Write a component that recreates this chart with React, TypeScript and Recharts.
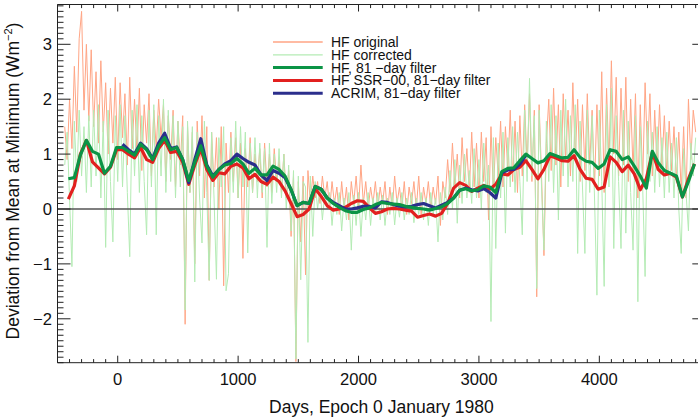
import React from 'react';
import { ComposedChart, Line, XAxis, YAxis, ReferenceLine, Legend } from 'recharts';

// ---------- data ----------
// noisy daily series, sampled every 20 days starting at day -440
const noiseStartDay = -440;
const noiseStepDays = 20;
const hfOriginal = [
  1.5, 0.9, 2.0, 1.1, 2.6, 1.4, 3.1, 3.6, 1.8, 3.0,
  1.6, 2.9, 1.5, 2.5, 1.2, 2.7, 1.4, 2.3, 1.0, 2.2,
  1.2, 2.4, 0.9, 2.3, 1.3, 2.1, 0.8, 2.4, 1.1, 2.0,
  1.0, 2.2, 0.7, 1.9, 1.2, 2.1, 0.6, 1.8, 1.1, 2.0,
  1.3, 1.9, 0.5, 1.7, 0.9, 1.8, 0.4, 1.6, 0.8, 1.7,
  -2.1, 1.5, 0.3, 1.4, -1.0, 1.6, 0.6, 1.7, 0.2, 1.5,
  -1.3, 1.4, 0.4, 1.3, 0.0, 1.5, -1.4, 1.2, 0.3, 1.4,
  0.5, 1.3, 0.2, 1.2, -0.9, 1.1, 0.4, 1.3, 0.3, 1.0,
  0.5, 1.1, 0.2, 1.2, 0.4, 1.0, 0.3, 1.1, 0.5, 0.9,
  0.3, 1.0, 0.2, 0.7, -0.5, 0.6, -2.78, 0.5, -0.6, 0.6,
  -1.2, 0.7, 0.1, 0.6, 0.2, 0.5, 0.1, 0.6, 0.2, 0.5,
  0.0, 0.5, 0.1, 0.4, -0.1, 0.5, 0.0, 0.4, -0.2, 0.5,
  0.1, 0.6, 0.0, 0.8, 0.1, 0.5, 0.0, 0.4, 0.1, 0.5,
  0.0, 0.4, 0.1, 0.5, -0.1, 0.4, 0.0, 0.6, 0.1, 0.4,
  0.0, 0.5, -0.1, 0.4, 0.1, 0.5, 0.0, 0.6, -0.1, 0.4,
  0.1, 0.5, 0.0, 0.4, 0.1, 0.6, -0.3, 0.5, 0.2, 0.9,
  0.3, 1.2, 0.4, 1.0, 0.2, 1.3, 0.5, 1.1, 0.3, 1.4,
  0.4, 1.2, 0.2, 1.4, 0.5, 1.3, -0.2, 1.5, 0.3, 1.3,
  0.6, 1.6, 0.4, 1.5, 0.7, 1.8, 0.5, 1.6, 0.3, 1.7,
  0.6, 1.9, 0.8, 2.1, 0.5, 1.8, -1.6, 1.9, 0.6, -0.85,
  1.2, 2.0, 0.7, 2.2, 0.8, 1.9, 0.4, 2.1, 0.9, 1.8,
  0.6, 2.3, 0.9, 2.0, 0.5, 1.9, 0.7, 2.1, 0.8, 1.8,
  0.4, 1.9, 0.6, 2.5, 0.3, 2.2, 0.8, 2.7, 1.0, 2.4,
  0.6, 2.2, 0.8, 2.4, 0.5, 2.0, 0.7, 2.1, 0.2, 1.9,
  0.5, 2.3, 1.0, 2.1, 0.6, 1.8, 0.7, 1.9, 0.8, 1.7,
  0.6, 1.6, 0.7, 1.5, 0.5, 1.4, 0.3, 1.5, 0.2, 2.0,
  0.9, 1.8, 1.4,
];
const hfCorrected = [
  0.8, 1.4, 0.2, -1.05, 1.6, 0.5, 1.8, 0.6, 1.5, 0.3,
  1.7, 0.4, 1.8, 0.6, 1.9, 0.2, 1.6, -0.7, 1.8, 0.5,
  -0.6, 1.7, 0.5, 1.9, 0.4, 1.7, 0.3, -0.87, 1.8, 0.6,
  1.9, 0.3, 1.7, 0.5, -0.47, 1.8, 0.4, 1.9, -0.47, 1.7,
  0.6, 2.0, 0.3, 1.8, 0.5, 1.7, 0.2, 1.6, 0.4, 1.5,
  -1.84, 1.6, 0.3, 1.5, -1.33, 1.4, 0.2, -0.62, 1.6, 0.3,
  -1.3, 1.4, 0.2, -1.28, 1.3, 0.4, 1.5, -1.49, -1.18, 1.3,
  0.3, 1.6, 0.2, 1.5, 0.4, 1.4, -0.8, 1.2, 0.3, 1.3,
  0.2, 1.2, 0.3, 1.1, -0.7, 1.2, 0.1, 1.0, 0.3, 1.1,
  0.2, 1.0, 0.0, 0.8, -0.4, 0.7, -2.73, 0.6, -1.29, 0.5,
  0.4, -2.43, 0.6, -0.5, 0.5, 0.0, 0.4, -0.2, 0.3, 0.0,
  0.3, -0.3, 0.2, -0.1, 0.3, -0.4, 0.2, -0.2, 0.3, -0.75,
  0.25, -0.3, 0.3, -0.5, 0.2, -0.2, 0.3, -0.3, 0.2, -0.1,
  0.3, -0.2, 0.25, -0.3, 0.2, -0.1, 0.3, -0.29, 0.2, -0.15,
  0.3, -0.2, 0.2, -0.1, 0.3, -0.25, 0.2, -0.1, 0.3, -0.2,
  0.2, -0.3, 0.3, -0.1, 0.2, -0.6, 0.3, -0.2, 0.4, -0.1,
  0.7, 0.0, 0.9, -0.26, 0.8, 0.1, 1.0, 0.2, 0.7, 0.1,
  1.1, 0.2, 0.9, 0.0, 1.2, 0.3, 0.8, -2.05, 1.3, -0.72,
  1.2, 0.2, 1.4, -0.44, 1.3, 0.4, 1.5, 0.3, 1.4, 0.5,
  -0.47, 1.8, 0.5, 2.38, 0.6, 1.7, -1.45, 1.8, 0.4, -0.75,
  1.6, 0.5, 1.9, 0.3, 1.7, -0.2, 1.8, 0.6, 2.0, 0.4,
  1.7, 0.5, 1.9, -0.81, 1.6, 0.4, -0.81, 1.8, 0.3, 1.7,
  0.2, -1.57, 1.8, 0.5, -1.41, 1.9, 0.4, 2.2, -0.72, 1.7,
  0.5, -0.72, 1.8, -0.44, 1.6, 0.3, -0.75, 1.7, -1.69, 1.5,
  0.4, -1.23, 1.6, 0.5, 1.4, 0.3, 1.5, 0.4, 1.3, 0.2,
  1.4, 0.3, 1.2, 0.2, 1.3, 0.0, -0.81, 1.1, 0.3, -0.4,
  1.2, 0.6, 1.3,
];

// 81-day filtered series, sampled every 50 days starting at day -410
const smoothStartDay = -410;
const smoothStepDays = 50;
const hfFiltered = [
  0.55, 0.57, 0.98, 1.25, 1.05, 1.0, 0.65, 0.78, 1.12, 1.12,
  1.05, 0.98, 1.18, 1.08, 0.9, 1.15, 1.3, 1.08, 1.12, 0.9,
  0.52, 0.85, 1.15, 0.78, 0.58, 0.72, 0.8, 0.83, 0.92, 0.82,
  0.65, 0.74, 0.62, 0.62, 0.78, 0.72, 0.6, 0.35, 0.06, 0.12,
  0.1, 0.41, 0.36, 0.2, 0.1, 0.03, -0.03, -0.06, -0.06, -0.01,
  0.02, 0.08, 0.12, 0.1, 0.09, 0.08, 0.05, 0.03, 0.01, 0.0,
  -0.02, 0.01, 0.04, 0.1, 0.2, 0.34, 0.37, 0.33, 0.35, 0.42,
  0.4, 0.3, 0.68, 0.74, 0.75, 0.88, 1.0, 0.92, 0.84, 0.88,
  1.01, 0.97, 0.93, 0.94, 1.08, 0.94, 0.87, 0.85, 0.74, 0.82,
  1.08, 1.05, 0.9, 0.95, 0.78, 0.6, 0.38, 1.05, 0.84, 0.7,
  0.65, 0.6, 0.22, 0.5, 0.82,
];
const hfSsr00 = [
  0.18, 0.42, 1.0, 1.25, 0.86, 0.75, 0.64, 0.76, 1.08, 1.08,
  1.0, 0.93, 1.12, 0.9, 0.85, 1.1, 1.25, 1.03, 1.05, 0.85,
  0.45, 0.8, 1.1, 0.72, 0.52, 0.66, 0.64, 0.78, 0.82, 0.75,
  0.55, 0.63, 0.5, 0.45, 0.58, 0.5, 0.33, 0.1, -0.14, -0.1,
  0.0, 0.37, 0.23, 0.06, -0.02, 0.0, 0.03, 0.1, 0.15, 0.14,
  0.02, -0.08, -0.05, 0.0, 0.01, 0.0, -0.02, -0.04, -0.15, -0.12,
  -0.09, -0.13, -0.08, 0.1, 0.38, 0.48, 0.43, 0.32, 0.38, 0.43,
  0.36, 0.45, 0.64, 0.62, 0.72, 0.76, 0.88, 0.72, 0.55, 0.72,
  0.97, 0.93, 0.88, 0.87, 0.97, 0.72, 0.56, 0.54, 0.36, 0.4,
  0.95, 0.85, 0.68, 0.8, 0.64, 0.35, 0.55, 1.03, 0.72, 0.62,
  0.65, 0.58, 0.22, 0.55, 0.82,
];
const acrim = [
  null, null, null, null, null, null, null, null, null, 1.18,
  1.08, 1.0, 1.2, 1.1, 0.92, 1.2, 1.38, 1.1, 1.13, 0.9,
  0.48, 0.9, 1.28, 0.8, 0.6, 0.72, 0.82, 0.88, 1.0, 0.92,
  0.85, 0.8, 0.62, 0.52, 0.7, 0.65, 0.57, 0.35, 0.06, 0.12,
  0.1, 0.41, 0.36, 0.2, 0.12, 0.06, 0.0, 0.0, 0.02, 0.05,
  0.05, 0.02, 0.13, 0.12, 0.08, 0.05, 0.04, 0.05, 0.08, 0.1,
  0.06, 0.02, 0.07, 0.12, 0.2, 0.34, 0.38, 0.35, 0.33, 0.37,
  0.3, 0.2, 0.66, 0.71, 0.72, 0.82, 0.98, null, null, null,
  null, null, null, null, null, null, null, null, null, null,
  null, null, null, null, null, null, null, null, null, null,
  null, null, null, null, null,
];

const seriesNames = {
  orig: 'HF original',
  corr: 'HF corrected',
  filt: 'HF, 81 \u2212day filter',
  ssr: 'HF SSR\u221200, 81\u2212day filter',
  acrim: 'ACRIM, 81\u2212day filter',
};
const xMajorLabels = [0, 1000, 2000, 3000, 4000];
const yMajorLabels = [-2, -1, 0, 1, 2, 3];
const xTitle = 'Days, Epoch 0 January 1980';
const yTitle = 'Deviation from Mean at Minimum (Wm';

// ---------- styles ----------
const COLORS = {
  orig: '#FFA585',
  corr: '#B4EBB4',
  filt: '#0B9446',
  ssr: '#E2201F',
  acrim: '#2B2E8C',
};
const AXIS = '#222';
const FONT = '"Liberation Sans", Arial, Helvetica, sans-serif';
const X_DOMAIN: [number, number] = [-500, 4880];
const Y_DOMAIN: [number, number] = [-2.8, 3.725];

const noiseData = hfOriginal.map((v, i) => ({
  day: noiseStartDay + i * noiseStepDays,
  orig: v,
  corr: hfCorrected[i],
}));
const smoothData = hfFiltered.map((v, i) => ({
  day: smoothStartDay + i * smoothStepDays,
  filt: v,
  ssr: hfSsr00[i],
  acrim: acrim[i],
}));

const xTicks: number[] = [];
for (let d = -500; d <= 4800; d += 100) xTicks.push(d);
const yTicks: number[] = [];
for (let k = -28; k <= 37; k++) yTicks.push(k / 10);

const fmt = (v: number) => (v < 0 ? '\u2212' + Math.abs(v) : String(v));
const isXMajor = (v: number) => xMajorLabels.includes(v);
const isYMajor = (v: number) => yMajorLabels.some((m) => Math.abs(v - m) < 1e-6);

const BottomTick = (props: any) => {
  const { x, y, payload } = props;
  const major = isXMajor(payload.value);
  return (
    <g>
      <line x1={x} x2={x} y1={y} y2={y - (major ? 7 : 3.6)} stroke={AXIS} strokeWidth={1} />
      {major && (
        <text x={x} y={y + 22.3} textAnchor="middle" fontSize={16.6} fontFamily={FONT} fill="#111">
          {fmt(payload.value)}
        </text>
      )}
    </g>
  );
};
const TopTick = (props: any) => {
  const { x, y, payload } = props;
  const major = isXMajor(payload.value);
  return <line x1={x} x2={x} y1={y} y2={y + (major ? 7 : 3.6)} stroke={AXIS} strokeWidth={1} />;
};
const LeftTick = (props: any) => {
  const { x, y, payload } = props;
  const major = isYMajor(payload.value) || Math.abs(payload.value - Math.round(payload.value)) < 1e-6;
  return (
    <g>
      <line x1={x} x2={x + (major ? 13 : 6)} y1={y} y2={y} stroke={AXIS} strokeWidth={1} />
      {isYMajor(payload.value) && (
        <text x={x - 5.5} y={y + 6} textAnchor="end" fontSize={16.6} fontFamily={FONT} fill="#111">
          {fmt(Math.round(payload.value))}
        </text>
      )}
    </g>
  );
};
const RightTick = (props: any) => {
  const { x, y, payload } = props;
  const major = Math.abs(payload.value - Math.round(payload.value)) < 1e-6;
  return <line x1={x} x2={x - (major ? 13 : 6)} y1={y} y2={y} stroke={AXIS} strokeWidth={1} />;
};

const XTitle = () => (
  <text x={381.4} y={413.3} textAnchor="middle" fontSize={17.5} fontFamily={FONT} fill="#111">
    {xTitle}
  </text>
);
const YTitle = () => (
  <text transform="translate(19, 181) rotate(-90)" textAnchor="middle" fontSize={17.5} fontFamily={FONT} fill="#111">
    {yTitle}
    <tspan dy={-7} fontSize={11}>{'\u22122'}</tspan>
    <tspan dy={7}>)</tspan>
  </text>
);

const legendOrder = [seriesNames.orig, seriesNames.corr, seriesNames.filt, seriesNames.ssr, seriesNames.acrim];
const LegendContent = (props: any) => {
  const payload: any[] = props.payload || [];
  const items = legendOrder
    .map((n) => payload.find((p) => p.value === n))
    .filter(Boolean) as any[];
  return (
    <svg width={240} height={70} style={{ display: 'block' }}>
      {items.map((p, i) => {
        const y = 8 + 12.8 * i;
        return (
          <g key={p.value}>
            <line x1={3} x2={52.7} y1={y} y2={y} stroke={p.color} strokeWidth={i < 2 ? 1.3 : 3} />
            <text x={61} y={y + 5} fontSize={14} fontFamily={FONT} fill="#111">
              {p.value}
            </text>
          </g>
        );
      })}
    </svg>
  );
};

export default function App() {
  return (
    <div
      style={{
        position: 'absolute',
        left: 0,
        top: 0,
        width: 698,
        height: 420,
        overflow: 'hidden',
        background: '#fff',
      }}
    >
      <ComposedChart width={712} height={420} margin={{ top: 3.5, right: 5.7, bottom: 0, left: 0 }}>
        <XAxis
          dataKey="day"
          type="number"
          domain={X_DOMAIN}
          allowDataOverflow
          ticks={xTicks}
          interval={0}
          tick={BottomTick}
          tickLine={false}
          tickSize={0}
          tickMargin={0}
          height={57.3}
          axisLine={{ stroke: AXIS, strokeWidth: 1 }}
          label={<XTitle />}
        />
        <XAxis
          xAxisId="top"
          orientation="top"
          dataKey="day"
          type="number"
          domain={X_DOMAIN}
          allowDataOverflow
          ticks={xTicks}
          interval={0}
          tick={TopTick}
          tickLine={false}
          tickSize={0}
          tickMargin={0}
          height={1}
          axisLine={{ stroke: AXIS, strokeWidth: 1 }}
        />
        <YAxis
          type="number"
          domain={Y_DOMAIN}
          allowDataOverflow
          ticks={yTicks}
          interval={0}
          tick={LeftTick}
          tickLine={false}
          tickSize={0}
          tickMargin={0}
          width={57.5}
          axisLine={{ stroke: AXIS, strokeWidth: 1 }}
          label={<YTitle />}
        />
        <YAxis
          yAxisId="right"
          orientation="right"
          type="number"
          domain={Y_DOMAIN}
          allowDataOverflow
          ticks={yTicks}
          interval={0}
          tick={RightTick}
          tickLine={false}
          tickSize={0}
          tickMargin={0}
          width={1}
          axisLine={{ stroke: AXIS, strokeWidth: 1 }}
        />
        <Legend
          layout="vertical"
          align="center"
          verticalAlign="middle"
          content={LegendContent}
          wrapperStyle={{ left: 270, top: 34, width: 240, height: 70 }}
        />
        <Line
          data={noiseData}
          dataKey="orig"
          name={seriesNames.orig}
          stroke={COLORS.orig}
          strokeWidth={1}
          dot={false}
          activeDot={false}
          isAnimationActive={false}
        />
        <Line
          data={noiseData}
          dataKey="corr"
          name={seriesNames.corr}
          stroke={COLORS.corr}
          strokeWidth={1}
          dot={false}
          activeDot={false}
          isAnimationActive={false}
        />
        <ReferenceLine y={0} stroke="#555" strokeWidth={1.6} />
        <Line
          data={smoothData}
          dataKey="ssr"
          name={seriesNames.ssr}
          stroke={COLORS.ssr}
          strokeWidth={3.2}
          strokeLinejoin="round"
          dot={false}
          activeDot={false}
          isAnimationActive={false}
        />
        <Line
          data={smoothData}
          dataKey="acrim"
          name={seriesNames.acrim}
          stroke={COLORS.acrim}
          strokeWidth={3.2}
          strokeLinejoin="round"
          dot={false}
          activeDot={false}
          isAnimationActive={false}
        />
        <Line
          data={smoothData}
          dataKey="filt"
          name={seriesNames.filt}
          stroke={COLORS.filt}
          strokeWidth={3.2}
          strokeLinejoin="round"
          dot={false}
          activeDot={false}
          isAnimationActive={false}
        />
      </ComposedChart>
    </div>
  );
}
